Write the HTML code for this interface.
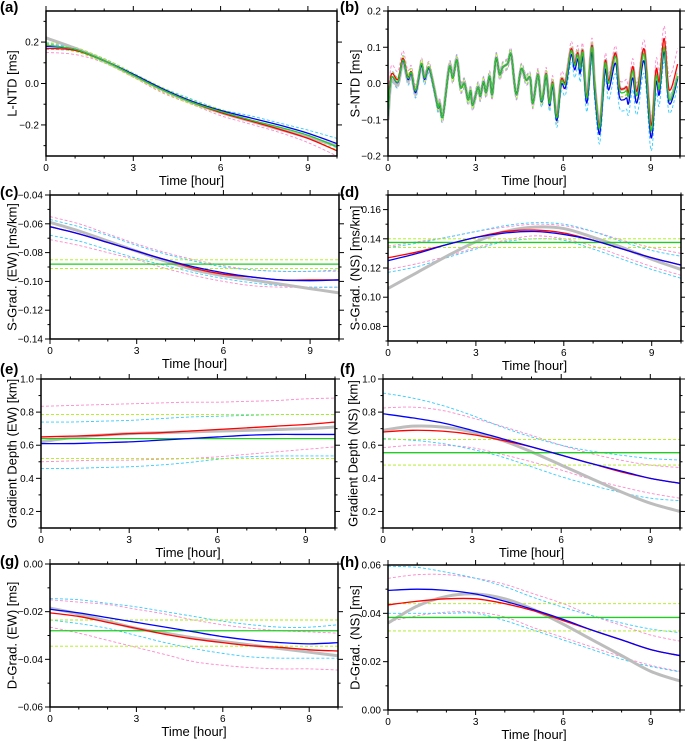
<!DOCTYPE html>
<html><head><meta charset="utf-8"><style>
html,body{margin:0;padding:0;background:#fff;}
svg{display:block;font-family:"Liberation Sans",Arial,sans-serif;}
</style></head><body>
<svg id="fig" width="685" height="741" viewBox="0 0 685 741" xmlns="http://www.w3.org/2000/svg"></svg>
<script>
const hours=[0,1,2,3,4,5,6,7,8,9,10];
// (a) L-NTD
const a_gray=[0.22,0.17,0.11,0.04,-0.03,-0.09,-0.14,-0.18,-0.22,-0.26,-0.30];
const a_red=[0.17,0.16,0.11,0.04,-0.03,-0.09,-0.14,-0.18,-0.22,-0.265,-0.325];
const a_blue=[0.18,0.165,0.11,0.045,-0.025,-0.085,-0.13,-0.165,-0.20,-0.24,-0.29];
const a_green=[0.185,0.165,0.11,0.04,-0.03,-0.09,-0.135,-0.175,-0.21,-0.25,-0.305];
const a_pinkHi=[0.19,0.17,0.12,0.05,-0.02,-0.08,-0.13,-0.165,-0.20,-0.24,-0.29];
const a_pinkLo=[0.15,0.14,0.10,0.03,-0.045,-0.10,-0.155,-0.195,-0.235,-0.285,-0.35];
const a_cyanHi=[0.195,0.17,0.12,0.05,-0.02,-0.075,-0.125,-0.155,-0.19,-0.225,-0.265];
const a_cyanLo=[0.165,0.155,0.10,0.035,-0.035,-0.095,-0.14,-0.18,-0.215,-0.26,-0.31];
const a_limeHi=[0.20,0.175,0.12,0.05,-0.02,-0.08,-0.125,-0.165,-0.20,-0.24,-0.29];
const a_limeLo=[0.17,0.155,0.10,0.03,-0.04,-0.10,-0.145,-0.185,-0.225,-0.265,-0.32];
// (b) S-NTD
const b_time=[0,0.11,0.34,0.51,0.68,0.8,0.95,1.14,1.25,1.4,1.57,1.71,1.77,1.88,2.1,2.22,2.36,2.48,2.62,2.74,2.83,2.9,3.08,3.16,3.27,3.36,3.48,3.57,3.7,3.82,3.93,4.1,4.22,4.39,4.56,4.73,4.87,4.96,5.13,5.24,5.32,5.42,5.53,5.64,5.78,5.93,6.08,6.27,6.39,6.5,6.58,6.67,6.81,6.98,7.07,7.22,7.3,7.44,7.56,7.79,7.92,8.07,8.17,8.24,8.38,8.49,8.58,8.78,9.01,9.18,9.29,9.46,9.63,9.92];
const b_green=[-0.09,0.015,0.005,0.065,0.015,0.03,-0.02,0.055,0.015,0.045,-0.01,-0.065,-0.055,-0.09,0.045,0.015,0.065,-0.01,0.0,-0.045,-0.02,-0.06,-0.01,-0.035,0.005,-0.025,0.02,-0.03,0.07,0.025,0.045,0.055,0.08,-0.03,0.04,0.01,0.015,-0.055,0.025,-0.045,-0.03,0.025,-0.055,0.0,-0.095,0.005,0.0,0.09,0.05,0.08,0.04,0.085,-0.04,0.1,0.0,-0.12,-0.085,0.055,0.0,0.075,-0.015,-0.025,-0.02,-0.035,0.035,-0.03,-0.015,0.08,-0.13,0.02,-0.015,0.1,-0.045,0.02];
const b_redOff=[0.01,0.0,0.0,0.0,0.0,0.0,0.005,0.005,0.01,0.015,0.035];
const b_blueOff=[0.0,-0.005,0.0,0.0,0.0,0.0,-0.01,-0.015,-0.02,-0.02,-0.005];
const b_grayOff=[-0.01,-0.005,0.005,0.0,0.0,0.0,0.005,0.005,0.01,0.01,0.0];
const b_pinkOff=[0.025,0.015,0.015,0.015,0.015,0.015,0.02,0.02,0.02,0.025,0.045];
const b_cyanOff=[-0.015,-0.015,-0.012,-0.012,-0.012,-0.012,-0.02,-0.025,-0.03,-0.035,-0.02];
const b_limeOff=[0.012,0.01,0.01,0.01,0.01,0.01,0.012,0.012,0.012,0.012,0.012];
// (c) S-Grad EW
const c_gray=[-0.059,-0.065,-0.072,-0.079,-0.086,-0.092,-0.096,-0.099,-0.102,-0.105,-0.108];
const c_red=[-0.062,-0.067,-0.073,-0.079,-0.085,-0.091,-0.095,-0.097,-0.099,-0.099,-0.099];
const c_blue=[-0.062,-0.067,-0.073,-0.079,-0.085,-0.090,-0.094,-0.097,-0.099,-0.0995,-0.099];
const c_green=[-0.088,-0.088,-0.088,-0.088,-0.088,-0.088,-0.088,-0.088,-0.088,-0.088,-0.088];
const c_pinkHi=[-0.055,-0.060,-0.067,-0.074,-0.080,-0.085,-0.089,-0.092,-0.093,-0.093,-0.093];
const c_pinkLo=[-0.071,-0.075,-0.080,-0.085,-0.091,-0.096,-0.100,-0.103,-0.104,-0.104,-0.104];
const c_cyanHi=[-0.057,-0.062,-0.068,-0.075,-0.081,-0.086,-0.090,-0.092,-0.093,-0.093,-0.092];
const c_cyanLo=[-0.068,-0.072,-0.078,-0.084,-0.089,-0.094,-0.098,-0.101,-0.103,-0.104,-0.104];
const c_limeHi=[-0.085,-0.085,-0.085,-0.085,-0.085,-0.085,-0.085,-0.085,-0.085,-0.085,-0.085];
const c_limeLo=[-0.091,-0.091,-0.091,-0.091,-0.091,-0.091,-0.091,-0.091,-0.091,-0.091,-0.091];
// (d) S-Grad NS
const d_gray=[0.106,0.117,0.128,0.138,0.145,0.148,0.147,0.141,0.134,0.126,0.119];
const d_red=[0.127,0.131,0.136,0.141,0.145,0.146,0.144,0.139,0.133,0.127,0.122];
const d_blue=[0.125,0.130,0.136,0.141,0.144,0.145,0.143,0.139,0.133,0.127,0.122];
const d_green=[0.1375,0.1375,0.1375,0.1375,0.1375,0.1375,0.1375,0.1375,0.1375,0.1375,0.1375];
const d_pinkHi=[0.135,0.138,0.141,0.145,0.148,0.150,0.149,0.145,0.139,0.134,0.130];
const d_pinkLo=[0.119,0.123,0.128,0.134,0.139,0.142,0.140,0.135,0.128,0.121,0.115];
const d_cyanHi=[0.134,0.137,0.141,0.145,0.149,0.151,0.150,0.145,0.138,0.132,0.128];
const d_cyanLo=[0.117,0.121,0.127,0.133,0.138,0.140,0.139,0.133,0.126,0.119,0.113];
const d_limeHi=[0.140,0.140,0.140,0.140,0.140,0.140,0.140,0.140,0.140,0.140,0.140];
const d_limeLo=[0.134,0.134,0.134,0.134,0.134,0.134,0.134,0.134,0.134,0.134,0.134];
// (e) Gradient depth EW
const e_gray=[0.62,0.645,0.66,0.67,0.675,0.68,0.685,0.69,0.695,0.70,0.71];
const e_red=[0.65,0.655,0.66,0.67,0.675,0.685,0.695,0.705,0.715,0.725,0.74];
const e_blue=[0.61,0.61,0.615,0.62,0.63,0.64,0.65,0.66,0.665,0.665,0.665];
const e_green=[0.64,0.64,0.64,0.64,0.64,0.64,0.64,0.64,0.64,0.64,0.64];
const e_pinkHi=[0.835,0.84,0.845,0.85,0.855,0.86,0.86,0.865,0.87,0.88,0.885];
const e_pinkLo=[0.50,0.505,0.51,0.51,0.515,0.52,0.53,0.545,0.56,0.575,0.59];
const e_cyanHi=[0.74,0.74,0.745,0.75,0.76,0.77,0.775,0.78,0.785,0.785,0.785];
const e_cyanLo=[0.46,0.46,0.465,0.47,0.48,0.495,0.515,0.53,0.535,0.535,0.535];
const e_limeHi=[0.785,0.785,0.785,0.785,0.785,0.785,0.785,0.785,0.785,0.785,0.785];
const e_limeLo=[0.52,0.52,0.52,0.52,0.52,0.52,0.52,0.52,0.52,0.52,0.52];
// (f) Gradient depth NS
const f_gray=[0.69,0.715,0.71,0.68,0.63,0.56,0.48,0.40,0.32,0.25,0.20];
const f_red=[0.68,0.69,0.685,0.665,0.63,0.59,0.54,0.49,0.44,0.40,0.37];
const f_blue=[0.79,0.765,0.735,0.69,0.64,0.59,0.54,0.49,0.445,0.40,0.37];
const f_green=[0.555,0.555,0.555,0.555,0.555,0.555,0.555,0.555,0.555,0.555,0.555];
const f_pinkHi=[0.825,0.83,0.81,0.765,0.715,0.66,0.60,0.55,0.51,0.48,0.465];
const f_pinkLo=[0.585,0.60,0.60,0.585,0.545,0.50,0.45,0.395,0.35,0.31,0.28];
const f_cyanHi=[0.915,0.885,0.84,0.78,0.71,0.65,0.60,0.565,0.54,0.52,0.51];
const f_cyanLo=[0.64,0.63,0.61,0.575,0.53,0.47,0.41,0.36,0.315,0.28,0.265];
const f_limeHi=[0.635,0.635,0.635,0.635,0.635,0.635,0.635,0.635,0.635,0.635,0.635];
const f_limeLo=[0.48,0.48,0.48,0.48,0.48,0.48,0.48,0.48,0.48,0.48,0.48];
// (g) D-Grad EW
const g_gray=[-0.0185,-0.021,-0.024,-0.027,-0.029,-0.031,-0.0325,-0.034,-0.0355,-0.037,-0.0385];
const g_red=[-0.0205,-0.022,-0.0245,-0.027,-0.0295,-0.0315,-0.033,-0.0343,-0.035,-0.036,-0.0365];
const g_blue=[-0.019,-0.0205,-0.0225,-0.0245,-0.0265,-0.0285,-0.0305,-0.032,-0.033,-0.0335,-0.033];
const g_green=[-0.028,-0.028,-0.028,-0.028,-0.028,-0.028,-0.028,-0.028,-0.028,-0.028,-0.028];
const g_pinkHi=[-0.015,-0.016,-0.017,-0.019,-0.021,-0.0235,-0.0255,-0.027,-0.028,-0.0285,-0.029];
const g_pinkLo=[-0.0265,-0.029,-0.032,-0.035,-0.038,-0.041,-0.0425,-0.0435,-0.044,-0.044,-0.0445];
const g_cyanHi=[-0.0145,-0.015,-0.0165,-0.018,-0.020,-0.022,-0.024,-0.0255,-0.0265,-0.0265,-0.0255];
const g_cyanLo=[-0.0235,-0.025,-0.027,-0.030,-0.033,-0.0355,-0.0375,-0.039,-0.0395,-0.0395,-0.0395];
const g_limeHi=[-0.0235,-0.0235,-0.0235,-0.0235,-0.0235,-0.0235,-0.0235,-0.0235,-0.0235,-0.0235,-0.0235];
const g_limeLo=[-0.0345,-0.0345,-0.0345,-0.0345,-0.0345,-0.0345,-0.0345,-0.0345,-0.0345,-0.0345,-0.0345];
// (h) D-Grad NS
const h_gray=[0.036,0.043,0.047,0.048,0.046,0.0415,0.0355,0.029,0.0225,0.016,0.012];
const h_red=[0.0435,0.045,0.046,0.046,0.044,0.041,0.037,0.033,0.029,0.025,0.0225];
const h_blue=[0.0495,0.050,0.0495,0.048,0.045,0.0415,0.0375,0.033,0.029,0.025,0.0225];
const h_green=[0.0383,0.0383,0.0383,0.0383,0.0383,0.0383,0.0383,0.0383,0.0383,0.0383,0.0383];
const h_pinkHi=[0.0545,0.056,0.056,0.0545,0.052,0.048,0.044,0.039,0.035,0.031,0.0285];
const h_pinkLo=[0.0365,0.039,0.0405,0.0405,0.0385,0.034,0.030,0.026,0.022,0.0185,0.016];
const h_cyanHi=[0.0595,0.059,0.057,0.0545,0.051,0.0465,0.0425,0.039,0.036,0.0335,0.032];
const h_cyanLo=[0.040,0.040,0.040,0.040,0.037,0.033,0.029,0.025,0.021,0.018,0.0158];
const h_limeHi=[0.044,0.044,0.044,0.044,0.044,0.044,0.044,0.044,0.044,0.044,0.044];
const h_limeLo=[0.0327,0.0327,0.0327,0.0327,0.0327,0.0327,0.0327,0.0327,0.0327,0.0327,0.0327];
// tick labels
const xTickLabels=["0","3","6","9"];
const a_yTicks=["−0.2","0.0","0.2"];
const b_yTicks=["−0.2","−0.1","0.0","0.1","0.2"];
const c_yTicks=["−0.14","−0.12","−0.10","−0.08","−0.06","−0.04"];
const d_yTicks=["0.08","0.10","0.12","0.14","0.16"];
const ef_yTicks=["0.2","0.4","0.6","0.8","1.0"];
const g_yTicks=["−0.06","−0.04","−0.02","0.00"];
const h_yTicks=["0.00","0.02","0.04","0.06"];

const NS='http://www.w3.org/2000/svg';
const svg=document.getElementById('fig');
function mk(tag,attrs,parent){const e=document.createElementNS(NS,tag);for(const k in attrs)e.setAttribute(k,attrs[k]);(parent||svg).appendChild(e);return e;}
function interp(xs,ys,x){if(x<=xs[0])return ys[0];for(let i=1;i<xs.length;i++){if(x<=xs[i]){const t=(x-xs[i-1])/(xs[i]-xs[i-1]);return ys[i-1]+t*(ys[i]-ys[i-1]);}}return ys[ys.length-1];}
function smoothPath(pts){let d='M'+pts[0][0].toFixed(2)+','+pts[0][1].toFixed(2);for(let i=0;i<pts.length-1;i++){const p0=pts[i-1]||pts[i],p1=pts[i],p2=pts[i+1],p3=pts[i+2]||p2;const c1=[p1[0]+(p2[0]-p0[0])/6,p1[1]+(p2[1]-p0[1])/6];const c2=[p2[0]-(p3[0]-p1[0])/6,p2[1]-(p3[1]-p1[1])/6];d+='C'+c1[0].toFixed(2)+','+c1[1].toFixed(2)+' '+c2[0].toFixed(2)+','+c2[1].toFixed(2)+' '+p2[0].toFixed(2)+','+p2[1].toFixed(2);}return d;}
const STY={gray:{stroke:'#bdbdbd',w:3,dash:null},green:{stroke:'#22cc22',w:1.3,dash:null},red:{stroke:'#ff0000',w:1.3,dash:null},blue:{stroke:'#0000ff',w:1.3,dash:null},pink:{stroke:'#ff88cc',w:0.9,dash:'3,2'},cyan:{stroke:'#33ccff',w:0.9,dash:'3,2'},lime:{stroke:'#aaee11',w:0.9,dash:'3,2'}};

const panels=[
 {id:'a',L:46,T:11,R:337,B:156,ymin:-0.35,ymax:0.35,major:0.2,minor:0.1,labels:a_yTicks,lab0:-0.2,title:'L-NTD [ms]',tx:12,lo:1,
  series:[['pink',a_pinkHi],['pink',a_pinkLo],['cyan',a_cyanHi],['cyan',a_cyanLo],['lime',a_limeHi],['lime',a_limeLo],['gray',a_gray],['red',a_red],['blue',a_blue],['green',a_green]]},
 {id:'b',L:388,T:11,R:680,B:156,ymin:-0.2,ymax:0.2,major:0.1,minor:0.05,labels:b_yTicks,lab0:-0.2,title:'S-NTD [ms]',tx:355,lo:1,noisy:true},
 {id:'c',L:50,T:195,R:339,B:339,ymin:-0.14,ymax:-0.04,major:0.02,minor:0.01,labels:c_yTicks,lab0:-0.14,title:'S-Grad. (EW) [ms/km]',tx:12,lo:2,
  series:[['pink',c_pinkHi],['pink',c_pinkLo],['cyan',c_cyanHi],['cyan',c_cyanLo],['lime',c_limeHi],['lime',c_limeLo],['gray',c_gray],['green',c_green],['red',c_red],['blue',c_blue]]},
 {id:'d',L:388,T:195,R:681,B:341,ymin:0.07,ymax:0.17,major:0.02,minor:0.01,labels:d_yTicks,lab0:0.08,title:'S-Grad. (NS) [ms/km]',tx:355,lo:2,
  series:[['pink',d_pinkHi],['pink',d_pinkLo],['cyan',d_cyanHi],['cyan',d_cyanLo],['lime',d_limeHi],['lime',d_limeLo],['gray',d_gray],['green',d_green],['red',d_red],['blue',d_blue]]},
 {id:'e',L:41,T:379,R:335,B:528,ymin:0.1,ymax:1.0,major:0.2,minor:0.1,labels:ef_yTicks,lab0:0.2,title:'Gradient Depth (EW) [km]',tx:12,lo:-5,
  series:[['pink',e_pinkHi],['pink',e_pinkLo],['cyan',e_cyanHi],['cyan',e_cyanLo],['lime',e_limeHi],['lime',e_limeLo],['gray',e_gray],['green',e_green],['red',e_red],['blue',e_blue]]},
 {id:'f',L:383,T:379,R:680,B:528,ymin:0.1,ymax:1.0,major:0.2,minor:0.1,labels:ef_yTicks,lab0:0.2,title:'Gradient Depth (NS) [km]',tx:353,lo:-5,
  series:[['pink',f_pinkHi],['pink',f_pinkLo],['cyan',f_cyanHi],['cyan',f_cyanLo],['lime',f_limeHi],['lime',f_limeLo],['gray',f_gray],['green',f_green],['red',f_red],['blue',f_blue]]},
 {id:'g',L:50,T:564,R:338,B:707,ymin:-0.06,ymax:0.0,major:0.02,minor:0.01,labels:g_yTicks,lab0:-0.06,title:'D-Grad. (EW) [ms]',tx:12,lo:2,
  series:[['pink',g_pinkHi],['pink',g_pinkLo],['cyan',g_cyanHi],['cyan',g_cyanLo],['lime',g_limeHi],['lime',g_limeLo],['gray',g_gray],['green',g_green],['red',g_red],['blue',g_blue]]},
 {id:'h',L:388,T:565,R:680,B:710,ymin:0.0,ymax:0.06,major:0.02,minor:0.01,labels:h_yTicks,lab0:0.0,title:'D-Grad. (NS) [ms]',tx:355,lo:2,
  series:[['pink',h_pinkHi],['pink',h_pinkLo],['cyan',h_cyanHi],['cyan',h_cyanLo],['lime',h_limeHi],['lime',h_limeLo],['gray',h_gray],['green',h_green],['red',h_red],['blue',h_blue]]}
];

panels.forEach(p=>{
  const g=mk('g',{});
  
  
  const xs=v=>p.L+(v/10)*(p.R-p.L);
  const ys=v=>p.B-(v-p.ymin)/(p.ymax-p.ymin)*(p.B-p.T);
  const cp=mk('clipPath',{id:'clip-'+p.id},g);
  mk('rect',{x:p.L,y:p.T,width:p.R-p.L,height:p.B-p.T},cp);
  const plot=mk('g',{'clip-path':'url(#clip-'+p.id+')'},g);
  
  
  function draw(kind,pts,name){
    const s=STY[kind];
    const path=mk('path',{d:smoothPath(pts),fill:'none',stroke:s.stroke,'stroke-width':s.w,'stroke-linejoin':'round'},plot);
    if(s.dash)path.setAttribute('stroke-dasharray',s.dash);
    
    
  }
  if(p.noisy){
    const mkPts=off=>b_time.map((t,i)=>[xs(t),ys(b_green[i]+(off?interp(hours,off,t):0))]);
    const neg=a=>a.map(v=>-v);
    const plus=(a,b)=>a.map((v,i)=>v+b[i]);
    draw('pink',mkPts(plus(b_redOff,b_pinkOff)),'series-red-upper-bound-b');
    draw('pink',mkPts(plus(b_redOff,neg(b_pinkOff))),'series-red-lower-bound-b');
    draw('cyan',mkPts(plus(b_blueOff,b_cyanOff)),'series-blue-lower-bound-b');
    draw('cyan',mkPts(plus(b_blueOff,neg(b_cyanOff))),'series-blue-upper-bound-b');
    draw('lime',mkPts(b_limeOff),'series-green-upper-bound-b');
    draw('lime',mkPts(neg(b_limeOff)),'series-green-lower-bound-b');
    draw('gray',mkPts(b_grayOff),'series-gray-b');
    draw('red',mkPts(b_redOff),'series-red-b');
    draw('blue',mkPts(b_blueOff),'series-blue-b');
    draw('green',mkPts(null),'series-green-b');
  } else {
    p.series.forEach((s,k)=>{draw(s[0],hours.map((h,i)=>[xs(h),ys(s[1][i])]),'series-'+s[0]+'-'+k+'-'+p.id);});
  }
  const fr=mk('rect',{x:p.L,y:p.T,width:p.R-p.L,height:p.B-p.T,fill:'none',stroke:'#000','stroke-width':1.5},g);
  
  
  const xt=mk('g',{stroke:'#000','stroke-width':1},g);
  
  
  for(let h=0;h<=10;h++){
    const len=h%3===0?5:2.5, x=xs(h);
    mk('line',{x1:x,x2:x,y1:p.B,y2:p.B+len},xt);
    mk('line',{x1:x,x2:x,y1:p.T,y2:p.T-len},xt);
  }
  xTickLabels.forEach((lab,i)=>{
    const t=mk('text',{x:xs(i*3),y:p.B+15,'font-size':10,'text-anchor':'middle'},g);
    t.textContent=lab;
    
    
  });
  const xl=mk('text',{x:(p.L+p.R)/2,y:p.B+29,'font-size':13,'text-anchor':'middle'},g);
  xl.textContent='Time [hour]';
  
  
  const yt=mk('g',{stroke:'#000','stroke-width':1},g);
  
  
  const nmin=Math.ceil(p.ymin/p.minor-1e-6), nmax=Math.floor(p.ymax/p.minor+1e-6);
  for(let n=nmin;n<=nmax;n++){
    const v=n*p.minor, y=ys(v);
    const isMaj=Math.abs((v-p.lab0)/p.major-Math.round((v-p.lab0)/p.major))<1e-4;
    const len=isMaj?5:2.5;
    mk('line',{x1:p.L,x2:p.L-len,y1:y,y2:y},yt);
    mk('line',{x1:p.R,x2:p.R+len,y1:y,y2:y},yt);
  }
  p.labels.forEach((lab,i)=>{
    const t=mk('text',{x:p.L-7,y:ys(p.lab0+i*p.major)+3.5,'font-size':10,'text-anchor':'end'},g);
    t.textContent=lab;
    
    
  });
  const cy=(p.T+p.B)/2;
  const yl=mk('text',{x:p.tx,y:cy,'font-size':13,'text-anchor':'middle','dominant-baseline':'central',transform:'rotate(-90 '+p.tx+' '+cy+')'},g);
  yl.textContent=p.title;
  
  
  const pl=mk('text',{x:p.L<100?0:340,y:p.T+p.lo,'font-size':15,'font-weight':'bold'},g);
  pl.textContent='('+p.id+')';
  
  
});
</script>
</body></html>
